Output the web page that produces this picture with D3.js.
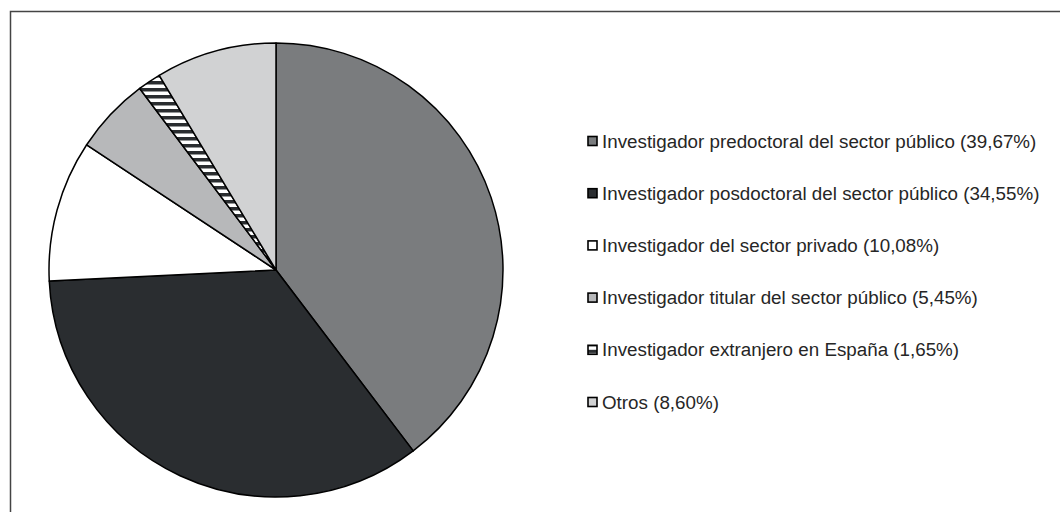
<!DOCTYPE html>
<html><head><meta charset="utf-8">
<script src="https://cdn.jsdelivr.net/npm/d3@7"></script>
<style>body{margin:0;background:#fff}svg{display:block}</style>
</head><body>
<svg id="c" width="1060" height="512"></svg>
<script>
const categories = [
  "Investigador predoctoral del sector público",
  "Investigador posdoctoral del sector público",
  "Investigador del sector privado",
  "Investigador titular del sector público",
  "Investigador extranjero en España",
  "Otros"
];
const values = [39.67, 34.55, 10.08, 5.45, 1.65, 8.60];
const valueLabels = ["39,67%", "34,55%", "10,08%", "5,45%", "1,65%", "8,60%"];
const fills = ["#7a7c7e", "#2a2d30", "#ffffff", "#b7b8ba", "url(#stripes)", "#d1d2d3"];

const svg = d3.select("#c");
const defs = svg.append("defs");
const pat = defs.append("pattern").attr("id", "stripes").attr("patternUnits", "userSpaceOnUse")
  .attr("width", 8).attr("height", 7);
pat.append("rect").attr("width", 8).attr("height", 7).attr("fill", "#ffffff");
pat.append("rect").attr("width", 8).attr("height", 3.5).attr("fill", "#2a2d30");

svg.append("rect").attr("x", 10.5).attr("y", 11.5).attr("width", 1200).attr("height", 700)
  .attr("fill", "none").attr("stroke", "#444").attr("stroke-width", 1.5);

const cx = 276, cy = 270, r = 227;
const data = categories.map((c, i) => ({ name: c, value: values[i], label: valueLabels[i], fill: fills[i] }));
const pie = d3.pie().value(d => d.value).sort(null);
const arc = d3.arc().innerRadius(0).outerRadius(r);
svg.append("g").attr("transform", `translate(${cx},${cy})`)
  .selectAll("path").data(pie(data)).join("path")
  .attr("d", arc).attr("fill", d => d.data.fill)
  .attr("stroke", "#000").attr("stroke-width", 1.5).attr("stroke-linejoin", "round");

const y = d3.scalePoint().domain(categories).range([141, 402]);
const lg = svg.append("g");
const items = lg.selectAll("g").data(data).join("g")
  .attr("transform", d => `translate(0,${y(d.name)})`);
items.append("rect").attr("x", 588).attr("y", -4.5).attr("width", 9).attr("height", 9)
  .attr("fill", d => d.fill).attr("stroke", "#000").attr("stroke-width", 1.6);
items.append("text").attr("x", 602).attr("y", 6.5)
  .attr("font-family", "Liberation Sans, Arial, sans-serif").attr("font-size", 18.8)
  .attr("fill", "#262626")
  .text(d => `${d.name} (${d.label})`);
</script>
</body></html>
